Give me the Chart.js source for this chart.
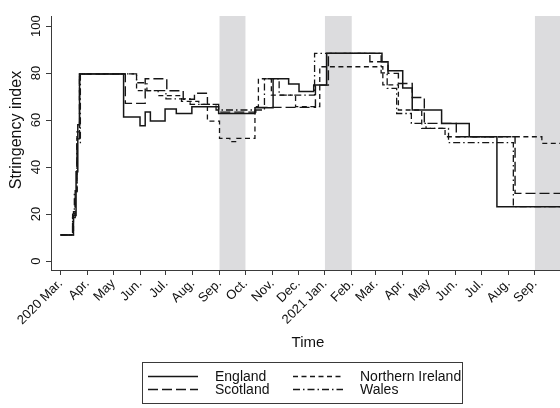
<!DOCTYPE html>
<html><head><meta charset="utf-8">
<script src="https://cdn.jsdelivr.net/npm/chart.js@4/dist/chart.umd.min.js"></script>
<style>html,body{margin:0;padding:0;background:#fff}#wrap{width:560px;height:408px;position:relative}</style>
</head><body><div id="wrap"><canvas id="c" width="560" height="408"></canvas></div>
<script>
// ---- data (x = days since 2020-03-01) ----
const monthTickDates = ['2020-03-01','2020-04-01','2020-05-01','2020-06-01','2020-07-01','2020-08-01','2020-09-01','2020-10-01','2020-11-01','2020-12-01','2021-01-01','2021-02-01','2021-03-01','2021-04-01','2021-05-01','2021-06-01','2021-07-01','2021-08-01','2021-09-01'];
const monthTickLabels = ['2020 Mar.','Apr.','May','Jun.','Jul.','Aug.','Sep.','Oct.','Nov.','Dec.','2021 Jan.','Feb.','Mar.','Apr.','May','Jun.','Jul.','Aug.','Sep.'];
const yTicks = [0,20,40,60,80,100];
const shadedPeriods = [['2020-09-01','2020-10-01'],['2021-01-01','2021-02-01'],['2021-09-01','2021-09-30']];

const englandDays   = [0,15,18,20,22,73,92,98,104,121,134,152,183,225,246,264,276,293,308,372,379,396,407,441,473,505,578];
const englandIndex  = [11.11,19.4,38,58,79.63,61.3,57.6,63.4,59.6,64.7,62.8,65.7,62.8,65.2,77.6,75.4,72.2,74.9,88.4,84.8,81.0,73.7,64.3,58.6,52.9,23.15,23.15];

const scotlandDays  = [0,14,17,19,22,75,98,123,142,155,170,183,226,295,310,358,379,391,407,421,458,526,578];
const scotlandIndex = [11.11,18.5,30,52,79.63,67.1,77.6,72.5,68.9,71.4,66.7,63.4,65.4,74.9,88.4,84.8,79.9,75.6,69.6,58.6,52.9,28.8,28.8];

const niDays        = [0,15,17,19,22,88,113,140,160,170,184,196,204,225,229,244,272,300,373,391,418,445,557,578];
const niIndex       = [11.11,21,29.6,55,79.63,72.5,70.4,68.0,66.7,59.6,52.2,50.8,52.2,65.7,77.6,70.6,65.7,82.7,75.0,64.3,56.5,52.9,50.1,50.1];

const walesDays     = [0,14,16,19,23,88,100,122,150,180,236,253,294,371,378,389,406,423,449,524,578];
const walesIndex    = [11.11,20,29.6,50,79.63,75.9,72.5,69,66.7,64.3,77.6,70.6,88.4,80.1,73.5,62.8,58.6,56.5,50.4,23.15,23.15];

const seriesNames = ['England','Scotland','Northern Ireland','Wales'];

// ---- helpers ----
function dayOf(s){const [y,m,d]=s.split('-').map(Number);return (Date.UTC(y,m-1,d)-Date.UTC(2020,2,1))/86400000;}
function pts(days,vals){return days.map((d,i)=>({x:d,y:vals[i]}));}
const INK='#161616', AXIS='#3a3a3a';
const FONT='"Liberation Sans", Arial, Helvetica, sans-serif';
const dashes = {England:[], Scotland:[10,4], 'Northern Ireland':[5,3.5], Wales:[7,3,1.5,3]};

const decor = {
  id:'decor',
  beforeDraw(chart){
    const {ctx, chartArea:a, scales:{x}} = chart;
    ctx.save();
    ctx.fillStyle='#dcdcde';
    shadedPeriods.forEach(([s,e])=>{
      const x0=Math.max(a.left,x.getPixelForValue(dayOf(s)));
      const x1=Math.min(a.right,x.getPixelForValue(dayOf(e)));
      ctx.fillRect(x0,a.top,x1-x0,a.bottom-a.top);
    });
    ctx.restore();
  },
  afterDraw(chart){
    const {ctx, chartArea:a, scales:{y}} = chart;
    ctx.save();
    ctx.fillStyle='#111';
    ctx.font='13px '+FONT;
    ctx.textAlign='center'; ctx.textBaseline='middle';
    yTicks.forEach(v=>{
      const py=y.getPixelForValue(v);
      ctx.save(); ctx.translate(36,py); ctx.rotate(-Math.PI/2); ctx.fillText(String(v),0,0); ctx.restore();
    });
    ctx.font='16px '+FONT;
    ctx.save(); ctx.translate(17,130); ctx.rotate(-Math.PI/2); ctx.fillText('Stringency index',0,0); ctx.restore();
    ctx.font='15px '+FONT;
    ctx.fillText('Time',308,343);
    ctx.strokeStyle=AXIS; ctx.lineWidth=1;
    ctx.strokeRect(142.5,362.5,320,41);
    const items=[
      {name:'England',x:148,y:376},
      {name:'Northern Ireland',x:293,y:376},
      {name:'Scotland',x:148,y:389},
      {name:'Wales',x:293,y:389}
    ];
    ctx.textAlign='left';
    ctx.font='14px '+FONT;
    items.forEach(it=>{
      ctx.save();
      ctx.strokeStyle=INK; ctx.lineWidth=1.4; ctx.setLineDash(dashes[it.name]);
      ctx.beginPath(); ctx.moveTo(it.x,it.y+0.5); ctx.lineTo(it.x+50,it.y+0.5); ctx.stroke();
      ctx.restore();
      ctx.fillText(it.name,it.x+67,it.y+1);
    });
    ctx.restore();
  }
};

const mk=(name,days,vals,w)=>({label:name,data:pts(days,vals),borderColor:INK,borderWidth:w,borderDash:dashes[name],
  pointRadius:0,stepped:'before',fill:false,tension:0});

new Chart(document.getElementById('c'),{
  type:'line',
  data:{datasets:[
    mk('Wales',walesDays,walesIndex,1.3),
    mk('Northern Ireland',niDays,niIndex,1.3),
    mk('Scotland',scotlandDays,scotlandIndex,1.4),
    mk('England',englandDays,englandIndex,1.5)
  ]},
  options:{
    responsive:false, animation:false, devicePixelRatio:1,
    layout:{padding:{top:16,right:0,bottom:0,left:0}},
    plugins:{legend:{display:false},tooltip:{enabled:false}},
    scales:{
      x:{type:'linear',min:-11,max:578,
        afterBuildTicks(s){s.ticks=monthTickDates.map(d=>({value:dayOf(d)}));},
        afterFit(s){s.height=138;},
        ticks:{autoSkip:false,minRotation:45,maxRotation:45,padding:1,color:'#111',font:{size:13,family:FONT},
          callback:(v,i)=>monthTickLabels[i]},
        grid:{drawOnChartArea:false,drawTicks:true,tickLength:5,color:AXIS},
        border:{display:true,color:AXIS}
      },
      y:{type:'linear',min:-3.8,max:104.3,
        afterBuildTicks(s){s.ticks=yTicks.map(v=>({value:v}));},
        afterFit(s){s.width=51;},
        ticks:{display:false},
        grid:{drawOnChartArea:false,drawTicks:true,tickLength:5,color:AXIS},
        border:{display:true,color:AXIS}
      }
    }
  },
  plugins:[decor]
});
</script></body></html>
